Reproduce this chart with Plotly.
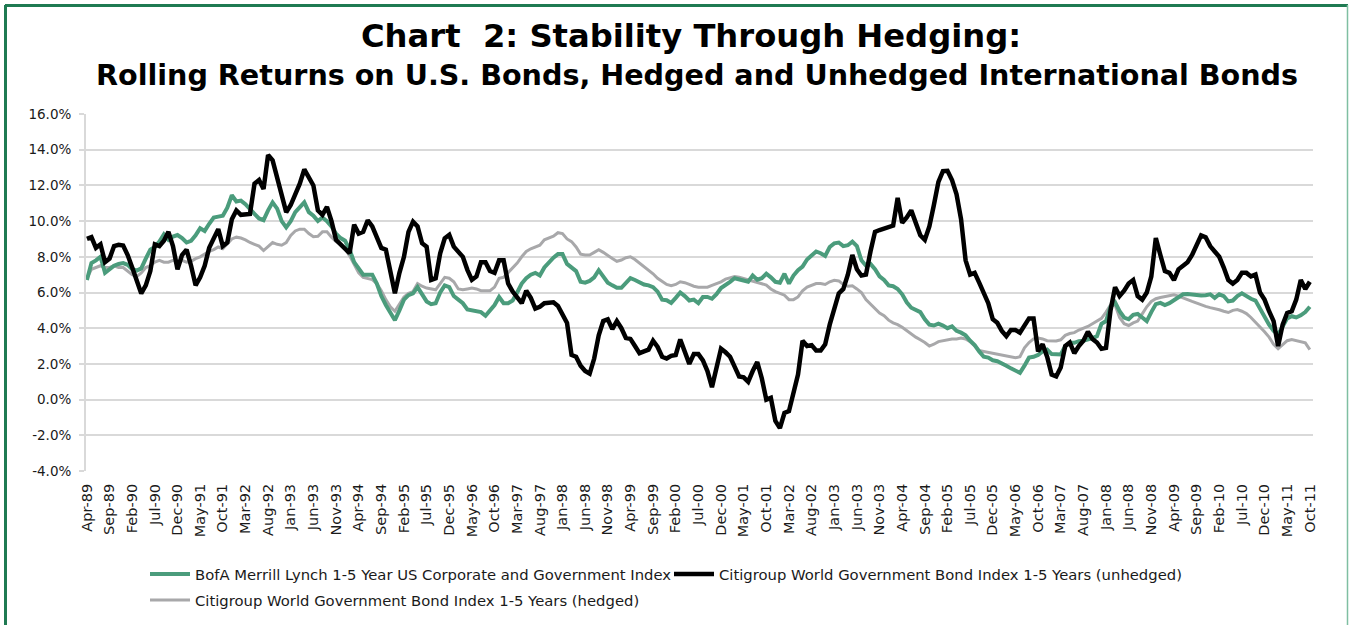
import pandas as pd
import plotly.graph_objects as go

# Monthly rolling returns (%), Apr-1989 .. Oct-2011
months = pd.date_range("1989-04-01", "2011-10-01", freq="MS").strftime("%b-%y").tolist()

bofa_us = [
    6.7, 7.65, 7.8, 8.0, 7.1, 7.3, 7.5, 7.6, 7.65, 7.55, 7.3, 7.23, 7.35, 7.9, 8.4, 8.55, 8.85, 9.25, 8.95, 9.13,
    9.22, 9.05, 8.8, 8.9, 9.2, 9.6, 9.45, 9.85, 10.2, 10.25, 10.3, 10.75, 11.45, 11.1, 11.15, 10.95, 10.65, 10.4, 10.15, 10.05,
    10.6, 11.05, 10.7, 10.0, 9.65, 10.0, 10.5, 10.8, 11.05, 10.5, 10.3, 10.0, 10.2, 10.0, 9.7, 9.3, 9.05, 8.9, 8.4, 7.7,
    7.3, 7.0, 7.0, 7.0, 6.5, 5.8, 5.3, 4.9, 4.45, 5.0, 5.6, 5.85, 5.95, 6.3, 5.9, 5.5, 5.35, 5.4, 6.0, 6.4,
    6.3, 5.8, 5.6, 5.4, 5.05, 5.0, 5.0, 4.9, 4.7, 5.0, 5.3, 5.75, 5.4, 5.4, 5.55, 6.0, 6.5, 6.8, 7.0, 7.1,
    6.95, 7.4, 7.7, 7.95, 8.15, 8.15, 7.6, 7.4, 7.2, 6.6, 6.55, 6.65, 6.85, 7.25, 6.9, 6.55, 6.4, 6.26, 6.26, 6.5,
    6.8, 6.7, 6.55, 6.45, 6.4, 6.3, 6.05, 5.6, 5.57, 5.42, 5.7, 6.0, 5.8, 5.55, 5.6, 5.4, 5.75, 5.75, 5.65, 5.9,
    6.25, 6.4, 6.6, 6.8, 6.75, 6.65, 6.6, 6.95, 6.72, 6.8, 7.05, 6.85, 6.6, 6.55, 7.05, 6.5, 6.95, 7.25, 7.45, 7.85,
    8.1, 8.3, 8.2, 8.05, 8.55, 8.75, 8.8, 8.6, 8.65, 8.85, 8.6, 7.8, 7.5, 7.6, 7.3, 6.9, 6.7, 6.4, 6.35, 6.2,
    5.9, 5.45, 5.15, 5.0, 4.9, 4.5, 4.2, 4.15, 4.25, 4.15, 4.0, 4.1, 3.85, 3.75, 3.6, 3.3, 3.05, 2.7, 2.4, 2.35,
    2.2, 2.15, 2.05, 1.9, 1.75, 1.6, 1.5, 1.9, 2.35, 2.4, 2.5, 2.7, 2.8, 2.55, 2.53, 2.53, 3.0, 3.18, 3.18, 3.27,
    3.3, 3.35, 3.45, 3.55, 4.25, 4.4, 5.2, 5.45, 4.95, 4.6, 4.5, 4.75, 4.8, 4.6, 4.4, 4.9, 5.35, 5.42, 5.3, 5.4,
    5.55, 5.7, 5.9, 5.92, 5.88, 5.83, 5.83, 5.85, 5.9, 5.7, 5.9, 5.8, 5.5, 5.55, 5.8, 5.95, 5.78, 5.65, 5.55, 5.1,
    4.6, 4.2, 3.85, 3.65, 4.1, 4.55, 4.67, 4.6, 4.72, 4.9, 5.2,
]

citi_unhedged = [
    9.0, 9.1, 8.5, 8.7, 7.7, 7.9, 8.6, 8.67, 8.63, 8.1, 7.4, 6.6, 5.95, 6.4, 7.2, 8.7, 8.6, 8.9, 9.4, 8.6,
    7.3, 8.1, 8.4, 7.5, 6.4, 6.85, 7.5, 8.5, 9.1, 9.55, 8.6, 8.8, 10.1, 10.6, 10.35, 10.4, 10.4, 12.1, 12.3, 11.8,
    13.7, 13.4, 12.4, 11.4, 10.5, 10.9, 11.5, 12.1, 12.9, 12.5, 12.0, 10.6, 10.35, 10.8, 10.0, 8.95, 8.67, 8.4, 8.2, 9.8,
    9.3, 9.4, 10.05, 9.7, 9.05, 8.5, 8.4, 7.1, 5.96, 7.1, 8.0, 9.4, 9.97, 9.7, 8.76, 8.57, 6.71, 6.8, 8.2, 9.04,
    9.23, 8.57, 8.3, 8.0, 7.27, 6.71, 6.9, 7.7, 7.7, 7.2, 7.1, 7.8, 7.8, 6.5, 6.05, 5.75, 5.4, 6.1, 5.7, 5.1,
    5.2, 5.4, 5.45, 5.45, 5.25, 4.8, 4.3, 2.5, 2.4, 1.9, 1.6, 1.45, 2.3, 3.6, 4.4, 4.5, 3.95, 4.4, 4.0, 3.45,
    3.4, 3.0, 2.6, 2.7, 2.8, 3.3, 2.95, 2.4, 2.3, 2.45, 2.5, 3.37, 2.6, 2.0, 2.55, 2.55, 2.2, 1.6, 0.7, 1.9,
    2.85, 2.65, 2.4, 1.85, 1.3, 1.25, 1.0, 1.6, 2.1, 1.2, 0.0, 0.1, -1.2, -1.6, -0.75, -0.65, 0.3, 1.4, 3.3, 3.0,
    3.05, 2.75, 2.75, 3.1, 4.2, 5.0, 5.95, 6.2, 7.0, 8.1, 7.3, 6.95, 7.0, 8.3, 9.4, 9.5, 9.6, 9.7, 9.75, 11.3,
    9.9, 10.2, 10.6, 9.9, 9.2, 8.95, 9.7, 10.9, 12.2, 12.8, 12.82, 12.3, 11.5, 10.1, 7.8, 7.0, 7.1, 6.55, 5.95, 5.4,
    4.5, 4.3, 3.85, 3.55, 3.9, 3.9, 3.75, 4.2, 4.55, 4.55, 2.7, 3.1, 2.4, 1.4, 1.3, 1.8, 3.0, 3.2, 2.6, 3.0,
    3.3, 3.8, 3.4, 3.2, 2.85, 2.9, 5.0, 6.3, 5.8, 6.1, 6.5, 6.7, 5.8, 5.6, 6.0, 6.9, 9.05, 8.1, 7.2, 7.1,
    6.7, 7.3, 7.5, 7.7, 8.1, 8.7, 9.2, 9.1, 8.6, 8.3, 8.0, 7.4, 6.7, 6.5, 6.7, 7.1, 7.1, 6.9, 7.0, 6.0,
    5.6, 4.95, 4.4, 3.0, 4.2, 4.85, 4.95, 5.6, 6.7, 6.2, 6.6,
]

citi_hedged = [
    6.8, 7.3, 7.4, 7.5, 7.4, 7.4, 7.5, 7.4, 7.4, 7.2, 7.0, 6.9, 7.1, 7.4, 7.5, 7.7, 7.8, 7.7, 7.7, 7.8,
    7.7, 7.8, 7.7, 7.75, 7.9, 8.0, 8.15, 8.3, 8.4, 8.55, 8.45, 8.7, 9.0, 9.1, 9.05, 8.95, 8.8, 8.7, 8.6, 8.35,
    8.6, 8.8, 8.7, 8.65, 8.8, 9.2, 9.45, 9.55, 9.55, 9.3, 9.13, 9.15, 9.4, 9.4, 9.1, 8.85, 8.7, 8.45, 8.05, 7.6,
    7.1, 6.85, 6.78, 6.72, 6.5, 6.1, 5.6, 5.2, 4.95, 5.35, 5.75, 5.95, 6.05, 6.5, 6.35, 6.25, 6.2, 6.15, 6.5, 6.85,
    6.8, 6.6, 6.2, 6.15, 6.2, 6.25, 6.2, 6.1, 6.1, 6.1, 6.3, 6.8, 6.85, 7.1, 7.4, 7.65, 8.0, 8.3, 8.45, 8.55,
    8.65, 8.95, 9.05, 9.15, 9.35, 9.3, 9.0, 8.85, 8.55, 8.15, 8.1, 8.1, 8.25, 8.4, 8.25, 8.05, 7.9, 7.75, 7.82, 7.95,
    8.0, 7.85, 7.65, 7.47, 7.3, 7.05, 6.8, 6.6, 6.45, 6.38, 6.45, 6.6, 6.55, 6.45, 6.35, 6.3, 6.28, 6.3, 6.4, 6.5,
    6.6, 6.75, 6.82, 6.9, 6.85, 6.78, 6.7, 6.65, 6.58, 6.5, 6.42, 6.2, 6.05, 5.95, 5.85, 5.6, 5.6, 5.75, 6.1, 6.3,
    6.4, 6.5, 6.5, 6.45, 6.6, 6.68, 6.65, 6.45, 6.35, 6.38, 6.2, 6.0, 5.6, 5.35, 5.1, 4.85, 4.7, 4.45, 4.3, 4.2,
    4.05, 3.85, 3.65, 3.5, 3.35, 3.2, 3.0, 3.1, 3.25, 3.3, 3.35, 3.4, 3.4, 3.45, 3.4, 3.25, 3.0, 2.75, 2.7, 2.65,
    2.62, 2.57, 2.5, 2.43, 2.38, 2.34, 2.4, 2.9, 3.2, 3.4, 3.45, 3.4, 3.3, 3.27, 3.28, 3.35, 3.6, 3.7, 3.75, 3.9,
    4.0, 4.1, 4.25, 4.4, 4.55, 4.9, 5.3, 5.3, 4.6, 4.25, 4.15, 4.3, 4.4, 4.8, 5.2, 5.5, 5.65, 5.72, 5.78, 5.83,
    5.87, 5.8, 5.72, 5.6, 5.5, 5.4, 5.32, 5.22, 5.15, 5.1, 5.03, 4.95, 4.88, 5.0, 5.04, 4.95, 4.82, 4.6, 4.35, 4.1,
    3.8, 3.5, 3.1, 2.85, 3.05, 3.3, 3.37, 3.32, 3.27, 3.18, 2.8,
]

series_names = [
    "BofA Merrill Lynch 1-5 Year US Corporate and Government Index",
    "Citigroup World Government Bond Index 1-5 Years (unhedged)",
    "Citigroup World Government Bond Index 1-5 Years (hedged)",
]
series_colors = ["#4b9c7c", "#000000", "#a8a8aa"]
series_widths = [4, 4.5, 3]
series_legends = ["legend", "legend", "legend2"]

y_ticks = list(range(-4, 17, 2))
y_tick_text = [f"{v:.1f}%" for v in y_ticks]
x_tick_labels = months[::5]

FONT = "DejaVu Sans"
GRID = "#d9d9d9"
TEXT = "#1a1a1a"

fig = go.Figure()
# hedged series sits underneath the other two
for idx, vals in [(2, citi_hedged), (0, bofa_us), (1, citi_unhedged)]:
    fig.add_trace(go.Scatter(
        x=months, y=vals, mode="lines", name=series_names[idx],
        line=dict(color=series_colors[idx], width=series_widths[idx]),
        legend=series_legends[idx], legendrank=idx + 1,
    ))

W, H = 1349, 625
L, R, T, B = 86, 36, 114, 154
pw, ph = W - L - R, H - T - B


def px_x(v):
    return (v - L) / pw


def px_y(v):
    return (T + ph - v) / ph


legend_common = dict(
    orientation="h", xanchor="left", yanchor="top",
    font=dict(size=14.8, family=FONT, color=TEXT),
    traceorder="normal", bgcolor="rgba(0,0,0,0)", itemwidth=40,
)

fig.update_layout(
    width=W, height=H,
    margin=dict(l=L, r=R, t=T, b=B, autoexpand=False),
    paper_bgcolor="white", plot_bgcolor="white",
    font=dict(family=FONT, color=TEXT),
    showlegend=True,
    legend=dict(legend_common, x=px_x(145), y=px_y(558), entrywidth=469, entrywidthmode="pixels"),
    legend2=dict(legend_common, x=px_x(145), y=px_y(584)),
    xaxis=dict(
        type="category", range=[-0.2, len(months) - 0.3],
        tickmode="array", tickvals=x_tick_labels, ticktext=x_tick_labels,
        tickangle=-90, ticks="", showgrid=False, showline=False, zeroline=False,
        ticklabelstandoff=9,
        tickfont=dict(size=14.5, family=FONT, color=TEXT), automargin=False,
    ),
    xaxis2=dict(
        overlaying="x", anchor="free", position=(0 - y_ticks[0]) / (y_ticks[-1] - y_ticks[0]),
        side="bottom", range=[-0.2, len(months) - 0.3],
        tickmode="array", tickvals=list(range(0, len(months), 5)),
        ticks="outside", ticklen=4, tickwidth=2, tickcolor=GRID,
        showticklabels=False, showgrid=False, zeroline=False,
        showline=True, linecolor=GRID, linewidth=2,
    ),
    yaxis=dict(
        range=[y_ticks[0], y_ticks[-1]], tickmode="array",
        tickvals=y_ticks, ticktext=y_tick_text,
        showgrid=True, gridcolor=GRID, gridwidth=2,
        showline=True, linecolor=GRID, linewidth=2,
        ticks="outside", ticklen=5, tickwidth=2, tickcolor=GRID,
        ticklabelstandoff=5,
        zeroline=False, automargin=False,
        tickfont=dict(size=13.5, family=FONT, color=TEXT),
    ),
)

# Title block
fig.add_annotation(
    text="<b>Chart\u00a0 2: Stability Through Hedging:</b>",
    xref="paper", yref="paper", x=px_x(691), y=px_y(36),
    xanchor="center", yanchor="middle", showarrow=False,
    font=dict(size=32.2, family=FONT, color="#000000"),
)
fig.add_annotation(
    text="<b>Rolling Returns on U.S. Bonds, Hedged and Unhedged International Bonds</b>",
    xref="paper", yref="paper", x=px_x(697), y=px_y(75),
    xanchor="center", yanchor="middle", showarrow=False,
    font=dict(size=28.6, family=FONT, color="#000000"),
)

# Frame around the whole graphic
frame = "#1f7a52"
fig.add_shape(type="line", xref="paper", yref="paper", x0=px_x(5), x1=px_x(1348), y0=px_y(5.5), y1=px_y(5.5),
              line=dict(color=frame, width=3))
fig.add_shape(type="line", xref="paper", yref="paper", x0=px_x(5.5), x1=px_x(5.5), y0=px_y(5), y1=px_y(640),
              line=dict(color=frame, width=3))
fig.add_shape(type="line", xref="paper", yref="paper", x0=px_x(1347.5), x1=px_x(1347.5), y0=px_y(5), y1=px_y(640),
              line=dict(color="#7fbfa2", width=1.5))

fig.write_html("out.html")
